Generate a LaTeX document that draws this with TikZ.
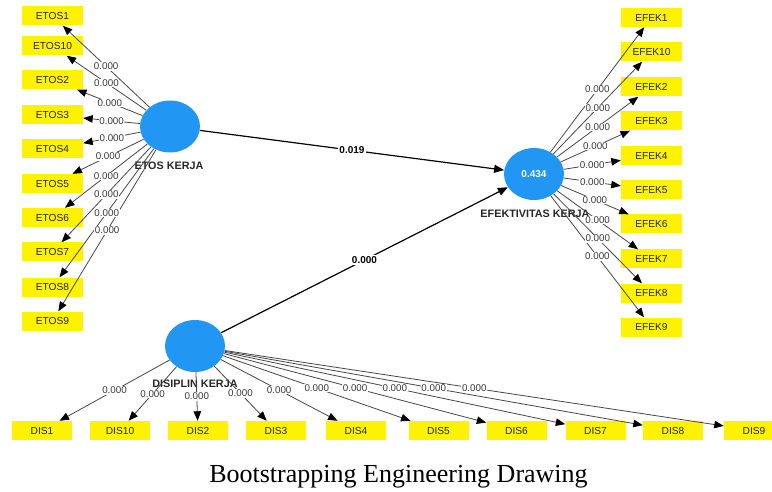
\documentclass[tikz,border=0pt]{standalone}
\usepackage{fontspec}
\setmainfont{Liberation Serif}
\newfontfamily\arialfont{Liberation Sans}
\usetikzlibrary{shapes.geometric,arrows.meta}
\definecolor{lvblue}{RGB}{33,150,243}
\definecolor{lblgray}{RGB}{55,55,55}
\definecolor{linegray}{RGB}{70,70,70}
\begin{document}
\begin{tikzpicture}[x=1pt,y=-1pt,
  latent/.style={ellipse, fill=lvblue, minimum width=60pt, minimum height=52pt, inner sep=0pt},
  indicator/.style={rectangle, fill=yellow, minimum width=61pt, minimum height=19pt, inner sep=0pt,
    font=\arialfont\fontsize{10.2}{12}\selectfont, text=black!85},
  lvname/.style={font=\arialfont\bfseries\fontsize{10.8}{12}\selectfont, text=black!85},
  loading/.style={draw=linegray, line width=0.8pt, -{Triangle[length=9.5pt,width=7.5pt,color=black]}},
  structural/.style={draw=black, line width=1.2pt, -{Triangle[length=10pt,width=8pt]}},
  lbl/.style={fill=white, inner sep=0.6pt, text=lblgray, font=\arialfont\fontsize{9.8}{11}\selectfont},
  plbl/.style={fill=white, inner sep=1pt, text=black, font=\arialfont\bfseries\fontsize{10}{11}\selectfont}
]
\useasboundingbox (0,0) rectangle (772,492);
\clip (0,0) rectangle (772,492);

% latent variables
\node[latent] (etos) at (170,126.5) {};
\node[latent] (efek) at (534,174) {\textcolor{white}{\arialfont\bfseries\fontsize{10}{11}\selectfont 0.434}};
\node[latent] (dis) at (195,346) {};
\node[lvname] (etosname) at (169,166) {ETOS KERJA};
\node[lvname] (efekname) at (535,214) {EFEKTIVITAS KERJA};
\node[lvname] (disname) at (195,384) {DISIPLIN KERJA};

% indicators
\foreach \n/\y in {1/16,10/46,2/80,3/115,4/149,5/183.5,6/217.5,7/252,8/287,9/321}
  \node[indicator] (etos\n) at (52.5,\y) {ETOS\n};
\foreach \n/\y in {1/17.5,10/52,2/87,3/121,4/155.5,5/190,6/224,7/259,8/293,9/327}
  \node[indicator] (efek\n) at (651.5,\y) {EFEK\n};
\foreach \n/\x in {1/42,10/120,2/198,3/276,4/356,5/438.5,6/516.5,7/595.5,8/673,9/754}
  \node[indicator, minimum width=60pt] (dis\n) at (\x,430.5) {DIS\n};

% loadings
\foreach \n in {1,10,2,3,4,5,6,7,8,9} {
  \draw[loading] (etos) -- (etos\n);
  \draw[loading] (efek) -- (efek\n);
  \draw[loading] (dis) -- (dis\n);
}
% structural paths
\draw[structural] (etos) -- (efek);
\draw[structural] (dis) -- (efek);

% labels
\foreach \n in {1,10,2,3,4,5,6,7,8,9} {
  \path (etos) -- node[lbl] {0.000} (etos\n);
  \path (efek) -- node[lbl] {0.000} (efek\n);
  \path (dis) -- node[lbl] {0.000} (dis\n);
}
\path (etos) -- node[plbl] {0.019} (efek);
\path (dis) -- node[plbl] {0.000} (efek);

% caption
\node[anchor=base, font=\fontsize{26}{30}\selectfont] (caption) at (398.5,482) {Bootstrapping Engineering Drawing};
\end{tikzpicture}
\end{document}
